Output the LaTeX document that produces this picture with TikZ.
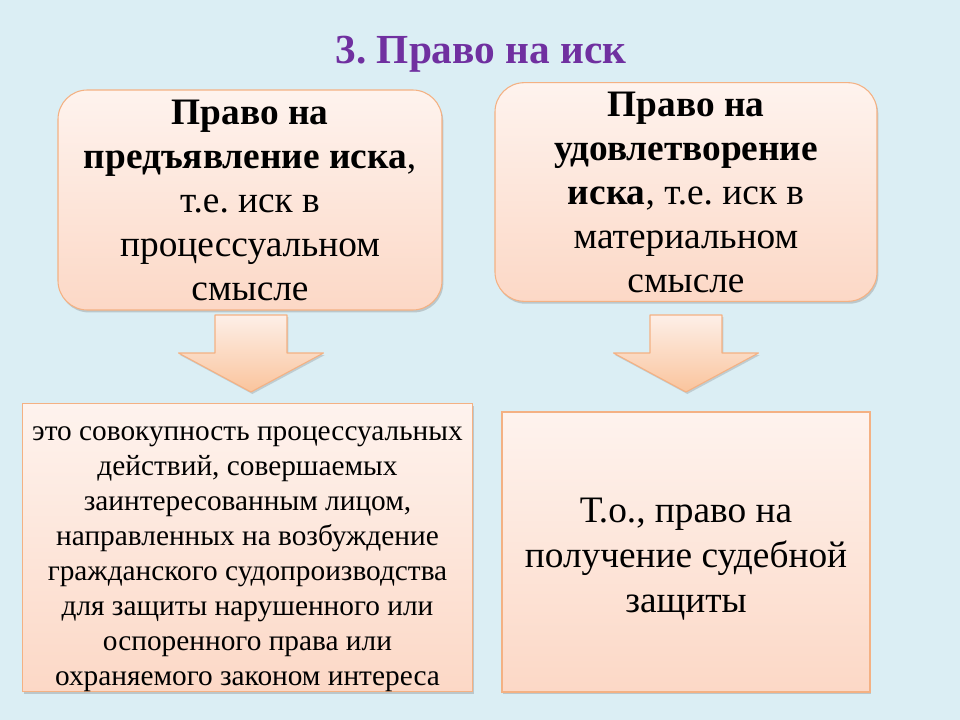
\documentclass[tikz,border=0pt]{standalone}
\usepackage{fontspec}
\setmainfont{Liberation Serif}
\frenchspacing
\usetikzlibrary{positioning,shadows}
\definecolor{bgblue}{HTML}{DBEEF4}
\definecolor{titlepurple}{HTML}{7030A0}
\definecolor{peachtop}{HTML}{FEF3EE}
\definecolor{peachbot}{HTML}{FCD8C6}
\definecolor{peachline}{HTML}{F4B183}
\definecolor{arrowtop}{HTML}{FDEFE8}
\definecolor{arrowbot}{HTML}{FAC49C}
\tikzset{
    rbox/.style = {
       shape=rectangle, rounded corners=22pt,
       align=center,
       inner sep=0pt,
       draw=peachline, line width=0.8pt,
       top color=peachtop, bottom color=peachbot,
       drop shadow={shadow xshift=1pt, shadow yshift=-1.8pt, opacity=0.35}
    },
    sbox/.style = {
       shape=rectangle,
       align=center,
       inner sep=0pt,
       draw=peachline, line width=0.8pt,
       top color=peachtop, bottom color=peachbot,
       drop shadow={shadow xshift=1pt, shadow yshift=-1.8pt, opacity=0.35}
    },
    darrow/.style = {
       draw=peachline, line width=0.8pt, line join=round,
       top color=arrowtop, bottom color=arrowbot,
       drop shadow={shadow xshift=1pt, shadow yshift=-1.5pt, opacity=0.3}
    }
}
\begin{document}
\begin{tikzpicture}[x=0.75pt,y=-0.75pt]
   \fill[bgblue] (0,0) rectangle (960,720);
   \useasboundingbox (0,0) rectangle (960,720);
   \node[text=titlepurple, font=\fontsize{31}{34}\selectfont\bfseries] (Title) at (481,54) {3. Право на иск};
   \node[rbox, minimum width=288pt, minimum height=165pt, font=\fontsize{28}{33}\selectfont] (Claim) at (250,200)
      {\textbf{Право на}\\\textbf{предъявление иска},\\т.е. иск в\\процессуальном\\смысле};
   \node[rbox, minimum width=286.5pt, minimum height=164pt, font=\fontsize{28}{33}\selectfont] (Satisfy) at (686,192)
      {\textbf{Право на}\\\textbf{удовлетворение}\\\textbf{иска}, т.е. иск в\\материальном\\смысле};
   % block arrows
   \draw[darrow, shift={(251,315)}] (-36,0) -- (36,0) -- (36,38) -- (72.5,38) -- (0,77) -- (-72.5,38) -- (-36,38) -- cycle;
   \draw[darrow, shift={(686,315)}] (-36,0) -- (36,0) -- (36,38) -- (72.5,38) -- (0,77) -- (-72.5,38) -- (-36,38) -- cycle;
   \node[sbox, minimum width=338pt, minimum height=214pt, font=\fontsize{22}{26.2}\selectfont] (Process) at (247.5,547.5)
      {\rule{0pt}{28pt}это совокупность процессуальных\\действий, совершаемых\\заинтересованным лицом,\\направленных на возбуждение\\гражданского судопроизводства\\для защиты нарушенного или\\оспоренного права или\\охраняемого законом интереса};
   \node[sbox, minimum width=276pt, minimum height=210pt, font=\fontsize{28}{33.75}\selectfont] (Protect) at (686,552)
      {\rule{0pt}{29pt}Т.о., право на\\получение судебной\\защиты};
\end{tikzpicture}
\end{document}
